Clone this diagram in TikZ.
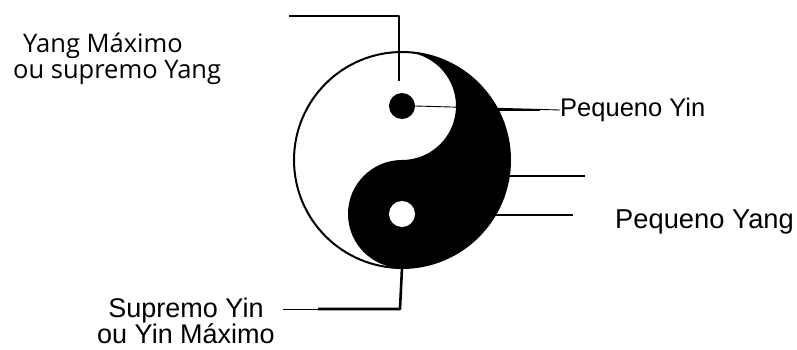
\documentclass[tikz,border=0pt]{standalone}
\usepackage{fontspec}
\setmainfont{Liberation Sans}
\newfontfamily\opensans{Open Sans}
\usetikzlibrary{calc, positioning}

\begin{document}
\begin{tikzpicture}[x=1pt, y=1pt, line join=round]
\def\R{108}
\def\r{54}
\colorlet{yinblack}{black}
\tikzset{
  lbl/.style={inner sep=0pt, text=black},
  leader/.style={line width=1.2pt},
  heavy/.style={line width=2.6pt},
}
\useasboundingbox (0,0) rectangle (797,349);

\coordinate (C) at (402,189);
\coordinate (T) at ($(C)+(0,\R)$);
\coordinate (B) at ($(C)-(0,\R)$);

% the two halves
\fill[white] (C) circle (\R);
\fill[yinblack] (T) arc[start angle=90, end angle=-90, radius=\R]
  arc[start angle=-90, end angle=-270, radius=\r]
  arc[start angle=-90, end angle=90, radius=\r] -- cycle;
\draw[line width=2pt] (C) circle (\R);

\node[circle, fill=black, minimum size=26pt, inner sep=0pt] (bdot) at ($(C)+(0,\r)$) {};
\node[circle, fill=white, minimum size=26pt, inner sep=0pt] (wdot) at ($(C)-(0,\r)$) {};

% labels
\node[lbl, anchor=base west, align=left, font=\opensans\fontsize{25.5}{26}\selectfont]
  (ymax) at (13,271) {\hspace*{10pt}Yang Máximo\\ou supremo Yang};
\node[lbl, anchor=west, font=\fontsize{25.5}{26}\selectfont]
  (pyin) at (560,239) {Pequeno Yin};
\node[lbl, anchor=base west, font=\fontsize{27.3}{27}\selectfont]
  (pyang) at (615,121) {Pequeno Yang};
\node[lbl, anchor=base, align=center, font=\fontsize{27}{26}\selectfont]
  (symax) at (186,6) {Supremo Yin\\ou Yin Máximo};

% leaders
\coordinate (top1) at (289,333);
\coordinate (top2) at (399,333);
\coordinate (top3) at (399,268);
\draw[heavy] (top1) -- (top2) -- (top3);

\draw[line width=0.9pt] (bdot.east) -- (pyin.west);
\draw[heavy] (498,239) -- (540,239);

\coordinate (mid1) at (509,173);
\coordinate (mid2) at (585,173);
\draw[leader] (mid1) -- (mid2);

\coordinate (low1) at (495,134);
\coordinate (low2) at (573,134);
\draw[line width=1.8pt] (low1) -- (low2);

\coordinate (bot1) at (400,40);
\coordinate (bot2) at (318,40);
\coordinate (bot3) at (283,40);
\draw[line width=0.9pt] (wdot.south) -- (B);
\draw[heavy] (B) -- (bot1) -- (bot2);
\draw[line width=0.9pt] (bot2) -- (bot3);
\end{tikzpicture}
\end{document}
